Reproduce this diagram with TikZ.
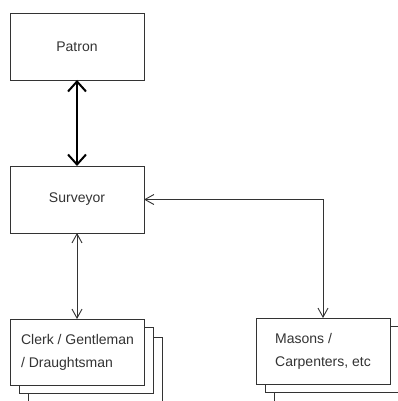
\documentclass[tikz,border=0pt]{standalone}
\usepackage{fontspec}
\setmainfont{Liberation Sans}
\usetikzlibrary{arrows.meta}
\definecolor{ink}{HTML}{333333}
\begin{document}
\begin{tikzpicture}[x=1pt,y=-1pt,
  box/.style={draw=ink,line width=0.9pt,fill=white,minimum width=134pt,minimum height=67pt,
    inner sep=0pt,outer sep=0pt,text=ink,font=\fontsize{14}{23}\selectfont,align=left},
  shade/.style={box,minimum width=134pt,minimum height=66pt},
  link/.style={draw=ink,line width=0.9pt,{Straight Barb[length=9pt,width=10pt]}-{Straight Barb[length=9pt,width=10pt]}},
  boldlink/.style={draw=black,line width=2pt,{Straight Barb[length=10pt,width=18pt]}-{Straight Barb[length=10pt,width=18pt]}}]
\useasboundingbox (0,0) rectangle (398,401);
% stacked copies behind the lower boxes
\node[shade] (clerkC) at (95,370) {};
\node[shade] (clerkB) at (86,360) {};
\node[shade] (masonsC) at (341,370) {};
\node[shade] (masonsB) at (332,359.5) {};
% main boxes
\node[box] (patron) at (77,46.5) {Patron};
\node[box] (surveyor) at (77,199.5) {Surveyor};
\node[shade] (clerk) at (77.5,352) {Clerk / Gentleman\\/ Draughtsman};
\node[shade] (masons) at (323,351) {Masons /\\Carpenters, etc};
% connectors
\draw[boldlink] (patron.south) -- (surveyor.north);
\draw[link] (surveyor.south) -- (clerk.north -| surveyor.south);
\draw[link] (surveyor.east) -| (masons.north);
\end{tikzpicture}
\end{document}
